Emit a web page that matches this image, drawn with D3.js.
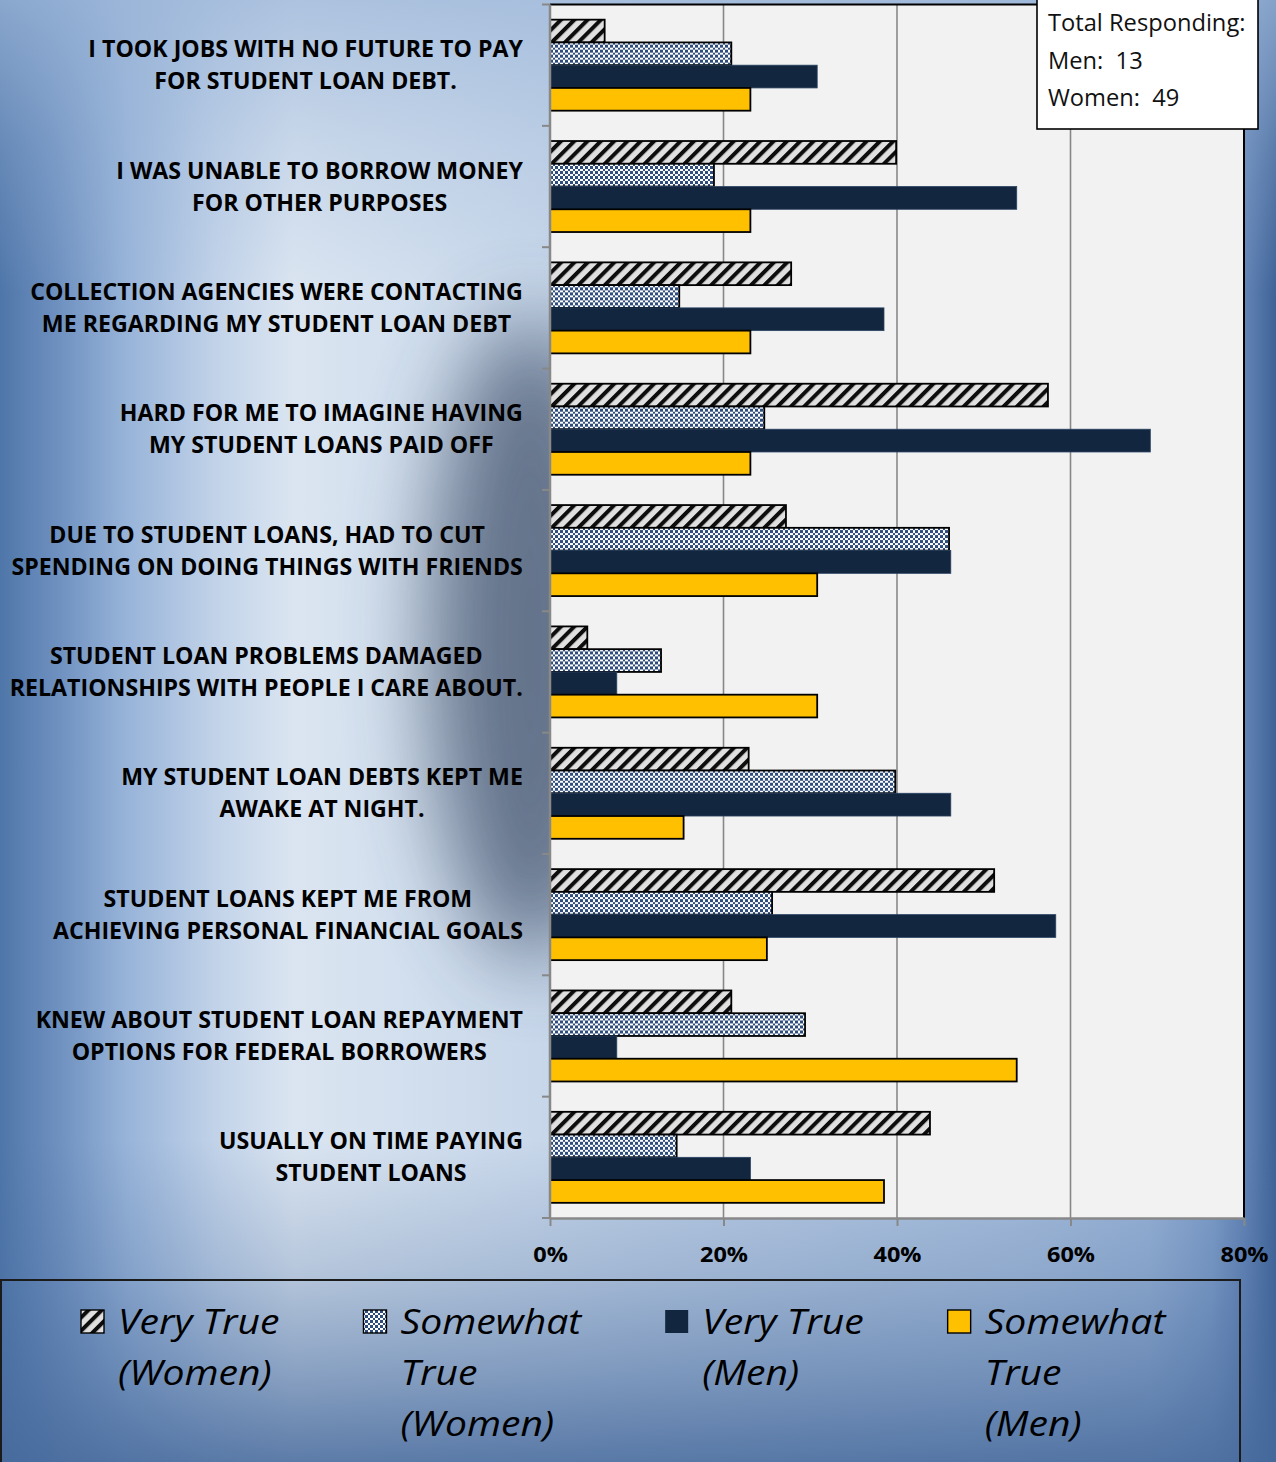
<!DOCTYPE html>
<html>
<head>
<meta charset="utf-8">
<script src="https://cdn.jsdelivr.net/npm/d3@7"></script>
<style>
  html, body { margin: 0; padding: 0; background: #a9c0dd; }
  svg { display: block; }
</style>
</head>
<body>
<svg id="chart" width="1276" height="1462"></svg>
<script>
// ---- data -------------------------------------------------------------
const categories = [
  ["I TOOK JOBS WITH NO FUTURE TO PAY", "FOR STUDENT LOAN DEBT."],
  ["I WAS UNABLE TO BORROW MONEY", "FOR OTHER PURPOSES"],
  ["COLLECTION AGENCIES WERE CONTACTING", "ME REGARDING MY STUDENT LOAN DEBT"],
  ["HARD FOR ME TO IMAGINE HAVING", "MY STUDENT LOANS PAID OFF"],
  ["DUE TO STUDENT LOANS, HAD TO CUT", "SPENDING ON DOING THINGS WITH FRIENDS"],
  ["STUDENT LOAN PROBLEMS DAMAGED", "RELATIONSHIPS WITH PEOPLE I CARE ABOUT."],
  ["MY STUDENT LOAN DEBTS KEPT ME", "AWAKE AT NIGHT."],
  ["STUDENT LOANS KEPT ME FROM", "ACHIEVING PERSONAL FINANCIAL GOALS"],
  ["KNEW ABOUT STUDENT LOAN REPAYMENT", "OPTIONS FOR FEDERAL BORROWERS"],
  ["USUALLY ON TIME PAYING", "STUDENT LOANS"]
];

// percent of respondents
const veryTrueWomen     = [6.3, 39.9, 27.8, 57.4, 27.2, 4.3, 22.9, 51.2, 20.9, 43.8];
const somewhatTrueWomen = [20.9, 18.9, 14.9, 24.7, 46.0, 12.8, 39.8, 25.6, 29.4, 14.6];
const veryTrueMen       = [30.8, 53.8, 38.5, 69.2, 46.2, 7.7, 46.2, 58.3, 7.7, 23.1];
const somewhatTrueMen   = [23.1, 23.1, 23.1, 23.1, 30.8, 30.8, 15.4, 25.0, 53.8, 38.5];

const seriesKeys = ["vtw", "stw", "vtm", "stm"];
const seriesLegend = [
  ["Very True", "(Women)"],
  ["Somewhat", "True", "(Women)"],
  ["Very True", "(Men)"],
  ["Somewhat", "True", "(Men)"]
];
const xTicks = [0, 20, 40, 60, 80];
const respondentLines = ["Total Responding:", "Men:  13", "Women:  49"];

const seriesValues = [veryTrueWomen, somewhatTrueWomen, veryTrueMen, somewhatTrueMen];
const rows = categories.map((lines, i) => ({
  i, lines,
  values: seriesKeys.map((k, s) => ({ key: k, value: seriesValues[s][i] }))
}));

// ---- layout -----------------------------------------------------------
const W = 1276, H = 1462;
const plot = { left: 550, right: 1244, top: 4.5, bottom: 1218 };
const FONT = "'Open Sans', 'Noto Sans', sans-serif";

const svg = d3.select("#chart");
const defs = svg.append("defs");

// background gradients
const bgH = defs.append("linearGradient").attr("id", "bgH")
  .attr("gradientUnits", "userSpaceOnUse").attr("x1", 0).attr("x2", W).attr("y1", 0).attr("y2", 0);
[[0, "#4f76a9"], [0.04, "#6a8dbd"], [0.10, "#98b4d9"], [0.17, "#c2d3e9"], [0.23, "#dbe5f1"],
 [0.32, "#d2dfee"], [0.5, "#c0d1e7"], [0.8, "#a9c0de"], [0.9, "#9bb5d8"], [0.95, "#809fca"],
 [0.975, "#6384b6"], [1, "#3f6397"]]
  .forEach(([o, c]) => bgH.append("stop").attr("offset", o).attr("stop-color", c));

const bgTop = defs.append("linearGradient").attr("id", "bgTop")
  .attr("gradientUnits", "userSpaceOnUse").attr("x1", 0).attr("x2", 0).attr("y1", 0).attr("y2", H);
[[0, 0.75], [0.1, 0.3], [0.2, 0]]
  .forEach(([o, a]) => bgTop.append("stop").attr("offset", o).attr("stop-color", "#9db7d9").attr("stop-opacity", a));

const bgBot = defs.append("linearGradient").attr("id", "bgBot")
  .attr("gradientUnits", "userSpaceOnUse").attr("x1", 0).attr("x2", 0).attr("y1", 0).attr("y2", H);
[[0.78, 0], [0.87, 0.25], [0.94, 0.55], [1, 0.85]]
  .forEach(([o, a]) => bgBot.append("stop").attr("offset", o).attr("stop-color", "#46699b").attr("stop-opacity", a));

defs.append("filter").attr("id", "soft").attr("x", "-100%").attr("y", "-100%").attr("width", "300%").attr("height", "300%")
  .append("feGaussianBlur").attr("stdDeviation", 42);

// bar fill patterns
const hatch = defs.append("pattern").attr("id", "hatch").attr("patternUnits", "userSpaceOnUse")
  .attr("width", 9.4).attr("height", 9.4).attr("patternTransform", "rotate(45)");
hatch.append("rect").attr("width", 9.4).attr("height", 9.4).attr("fill", "#e0e0e0");
hatch.append("rect").attr("width", 4).attr("height", 9.4).attr("fill", "#0d0d0d");

// checkerboard on whole pixels: column/row widths 3,2,3,2
const checker = defs.append("pattern").attr("id", "checker").attr("patternUnits", "userSpaceOnUse")
  .attr("width", 10).attr("height", 10);
checker.append("rect").attr("width", 10).attr("height", 10).attr("fill", "#ffffff");
const cellEdges = [[0, 3], [3, 2], [5, 3], [8, 2]];
cellEdges.forEach(([cx0, cw], ci) => cellEdges.forEach(([cy0, ch], ri) => {
  if ((ci + ri) % 2 === 0) checker.append("rect").attr("x", cx0).attr("y", cy0)
    .attr("width", cw).attr("height", ch).attr("fill", "#2e4d7c");
}));

const seriesStyle = {
  vtw: { fill: "url(#hatch)", stroke: "#000", sw: 1.8 },
  stw: { fill: "url(#checker)", stroke: "#000", sw: 1.8 },
  vtm: { fill: "#13263f", stroke: "#2a4262", sw: 0.8 },
  stm: { fill: "#ffc000", stroke: "#000", sw: 1.8 }
};

// ---- background --------------------------------------------------------
svg.append("rect").attr("width", W).attr("height", H).attr("fill", "url(#bgH)");
svg.append("rect").attr("width", W).attr("height", H).attr("fill", "url(#bgTop)");
svg.append("rect").attr("width", W).attr("height", H).attr("fill", "url(#bgBot)");
svg.append("ellipse").attr("cx", 530).attr("cy", 640).attr("rx", 100).attr("ry", 320)
  .attr("fill", "#3e4d66").attr("opacity", 0.72).attr("filter", "url(#soft)");

// ---- scales -----------------------------------------------------------
const x = d3.scaleLinear().domain([0, 80]).range([plot.left, plot.right]);
const y = d3.scaleBand().domain(rows.map(r => r.i)).range([plot.top, plot.bottom])
  .paddingInner(0.25).paddingOuter(0.125);
const ySub = d3.scaleBand().domain(seriesKeys).range([0, y.bandwidth()]);

// ---- plot area --------------------------------------------------------
svg.append("rect").attr("x", plot.left).attr("y", plot.top)
  .attr("width", plot.right - plot.left).attr("height", plot.bottom - plot.top).attr("fill", "#f2f2f2");

svg.append("g").selectAll("line").data(xTicks.filter(t => t > 0 && t < 80)).join("line")
  .attr("x1", d => x(d)).attr("x2", d => x(d)).attr("y1", plot.top).attr("y2", plot.bottom)
  .attr("stroke", "#888").attr("stroke-width", 1.6);

// bars
const groups = svg.append("g").selectAll("g").data(rows).join("g")
  .attr("transform", d => `translate(0,${y(d.i)})`);
groups.selectAll("rect").data(d => d.values).join("rect")
  .attr("x", x(0))
  .attr("y", d => ySub(d.key))
  .attr("width", d => x(d.value) - x(0))
  .attr("height", ySub.bandwidth())
  .attr("fill", d => seriesStyle[d.key].fill)
  .attr("stroke", d => seriesStyle[d.key].stroke)
  .attr("stroke-width", d => seriesStyle[d.key].sw);

// plot frame: black top/right, grey axes left/bottom
svg.append("line").attr("x1", plot.left).attr("x2", plot.right).attr("y1", plot.top).attr("y2", plot.top)
  .attr("stroke", "#000").attr("stroke-width", 2.2);
svg.append("line").attr("x1", plot.right).attr("x2", plot.right).attr("y1", plot.top).attr("y2", plot.bottom)
  .attr("stroke", "#000").attr("stroke-width", 2);

// category axis: line and ticks between the groups
const boundaries = d3.range(categories.length + 1).map(i => plot.top + i * y.step());
const yAxisG = svg.append("g");
yAxisG.append("line").attr("x1", plot.left).attr("x2", plot.left).attr("y1", plot.top).attr("y2", plot.bottom)
  .attr("stroke", "#888").attr("stroke-width", 2.5);
yAxisG.selectAll("line.tick").data(boundaries).join("line").attr("class", "tick")
  .attr("x1", plot.left - 8).attr("x2", plot.left).attr("y1", d => d).attr("y2", d => d)
  .attr("stroke", "#888").attr("stroke-width", 2);

// value axis
const xAxisG = svg.append("g").attr("transform", `translate(0,${plot.bottom})`)
  .call(d3.axisBottom(x).tickValues(xTicks).tickSize(8).tickSizeOuter(0).tickPadding(21)
    .tickFormat(d => d + "%"));
xAxisG.select(".domain").attr("stroke", "#888").attr("stroke-width", 2.5);
xAxisG.selectAll(".tick line").attr("stroke", "#888").attr("stroke-width", 2);
xAxisG.selectAll(".tick text").attr("fill", "#000").attr("font-family", FONT)
  .attr("font-size", 21).attr("font-weight", 700).attr("transform", "scale(1.12,1)");

// category labels: two centred lines, widest line right-aligned to the axis
const LABEL_SIZE = 22.5, LABEL_SX = 1.03, LABEL_RIGHT = 523, LINE_GAP = 32;
const labelG = svg.append("g").attr("font-family", FONT).attr("font-weight", 700)
  .attr("font-size", LABEL_SIZE).attr("fill", "#000");
rows.forEach(r => {
  const cy = y(r.i) + y.bandwidth() / 2;
  const g = labelG.append("g");
  const texts = r.lines.map(ln => g.append("text").attr("text-anchor", "middle").text(ln)
    .attr("dy", "0.36em"));
  const widest = d3.max(texts, t => t.node().getComputedTextLength()) * LABEL_SX;
  const cx = LABEL_RIGHT - widest / 2;
  texts.forEach((t, k) => {
    const ty = cy + (k - (r.lines.length - 1) / 2) * LINE_GAP;
    t.attr("transform", `translate(${cx},${ty}) scale(${LABEL_SX},1)`);
  });
});

// respondents box
const boxG = svg.append("g");
boxG.append("rect").attr("x", 1037).attr("y", -2).attr("width", 221).attr("height", 131)
  .attr("fill", "#fff").attr("stroke", "#000").attr("stroke-width", 1.6);
boxG.selectAll("text").data(respondentLines).join("text")
  .attr("transform", (d, i) => `translate(1048,${31 + i * 37.5}) scale(1.03,1)`)
  .attr("font-family", FONT).attr("font-size", 23).attr("fill", "#111")
  .attr("xml:space", "preserve").text(d => d);

// legend
const legendG = svg.append("g");
legendG.append("rect").attr("x", 1).attr("y", 1280).attr("width", 1239).attr("height", 240)
  .attr("fill", "none").attr("stroke", "#1b1b1b").attr("stroke-width", 2);
const LEG_SIZE = 34, LEG_SX = 1.15, LEG_LINE = 51;
let lx = 81;
seriesKeys.forEach((k, s) => {
  const st = seriesStyle[k];
  legendG.append("rect").attr("x", lx).attr("y", 1310).attr("width", 23).attr("height", 23)
    .attr("fill", st.fill).attr("stroke", k === "vtm" ? "none" : "#000").attr("stroke-width", 1.4);
  const tx = lx + 37;
  let maxW = 0;
  seriesLegend[s].forEach((ln, j) => {
    const t = legendG.append("text").text(ln)
      .attr("transform", `translate(${tx},${1334 + j * LEG_LINE}) scale(${LEG_SX},1)`)
      .attr("font-family", FONT).attr("font-style", "italic").attr("font-size", LEG_SIZE).attr("fill", "#000");
    maxW = Math.max(maxW, t.node().getComputedTextLength() * LEG_SX);
  });
  lx = tx + maxW + 84;
});
</script>
</body>
</html>
